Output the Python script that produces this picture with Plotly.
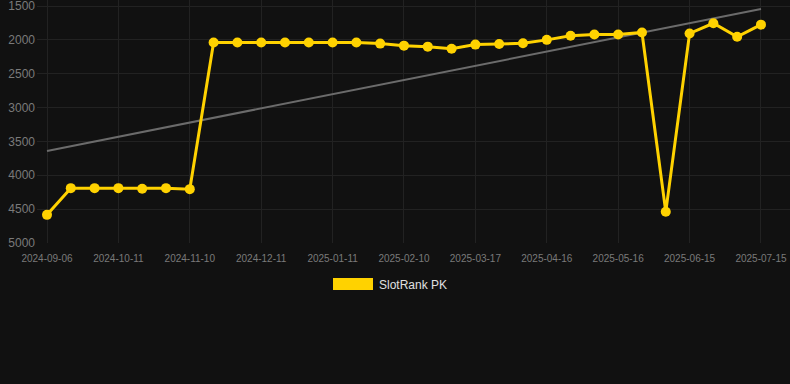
import plotly.graph_objects as go

dates = [
    "2024-09-06", "2024-09-18", "2024-09-30", "2024-10-11", "2024-10-21", "2024-10-31",
    "2024-11-10", "2024-11-20", "2024-12-01", "2024-12-11", "2024-12-21", "2025-01-01",
    "2025-01-11", "2025-01-21", "2025-01-31", "2025-02-10", "2025-02-22", "2025-03-06",
    "2025-03-17", "2025-03-27", "2025-04-06", "2025-04-16", "2025-04-26", "2025-05-06",
    "2025-05-16", "2025-05-26", "2025-06-05", "2025-06-15", "2025-06-25", "2025-07-05",
    "2025-07-15",
]
rank = [
    4585, 4190, 4190, 4190, 4200, 4190, 4205, 2040, 2040, 2040, 2040, 2040, 2040, 2040,
    2055, 2085, 2100, 2130, 2070, 2060, 2050, 2000, 1940, 1920, 1920, 1890, 4540, 1905,
    1755, 1955, 1775,
]
tick_labels = [
    "2024-09-06", "2024-10-11", "2024-11-10", "2024-12-11", "2025-01-11", "2025-02-10",
    "2025-03-17", "2025-04-16", "2025-05-16", "2025-06-15", "2025-07-15",
]
trend_x = ["2024-09-06", "2025-07-15"]
trend_y = [3640, 1545]
y_ticks = [1500, 2000, 2500, 3000, 3500, 4000, 4500, 5000]
series_name = "SlotRank PK"

GOLD = "#FFD200"
BG = "#111111"
GRID = "#222222"
TICK = "#808080"

fig = go.Figure()
fig.add_trace(go.Scatter(
    x=trend_x, y=trend_y, mode="lines",
    line=dict(color="#6b6b6b", width=2), hoverinfo="skip", showlegend=False,
))
fig.add_trace(go.Scatter(
    x=dates, y=rank, mode="lines+markers", name=series_name,
    line=dict(color=GOLD, width=3),
    marker=dict(color=GOLD, size=10),
    showlegend=False,
))

W, H = 790, 384
L, R, T, B = 37, 0, 0, 141
PH = H - T - B
PW = W - L - R
fig.update_layout(
    width=W, height=H,
    margin=dict(l=L, r=R, t=T, b=B),
    paper_bgcolor=BG, plot_bgcolor=BG,
    font=dict(family="Liberation Sans, Arial, sans-serif", color=TICK),
    xaxis=dict(
        type="category", categoryorder="array", categoryarray=dates,
        range=[-0.42, 31.22],
        tickmode="array", tickvals=tick_labels, ticktext=tick_labels,
        tickfont=dict(size=10, color="#7a7a7a"), tickangle=0,
        showgrid=True, gridcolor=GRID, gridwidth=1,
        zeroline=False, showline=False, ticks="", ticklabelstandoff=8,
        ticklabeloverflow="allow",
    ),
    yaxis=dict(
        range=[5000.5, 1411], tickmode="array", tickvals=y_ticks,
        tickfont=dict(size=12, color="#7a7a7a"),
        showgrid=True, gridcolor=GRID, gridwidth=1,
        zeroline=False, showline=False, ticks="", ticklabelstandoff=1,
        ticklabeloverflow="allow",
    ),
    showlegend=False,
)

def py(px):
    return 1 - (px - T) / PH

def pxx(px):
    return (px - L) / PW

# manual legend: wide swatch + label
fig.add_shape(type="rect", xref="paper", yref="paper",
              x0=pxx(333), x1=pxx(373), y0=py(278), y1=py(290),
              fillcolor=GOLD, line=dict(width=0))
fig.add_annotation(xref="paper", yref="paper",
                   x=pxx(377), y=py(284.5),
                   text=series_name, showarrow=False, xanchor="left", yanchor="middle",
                   font=dict(size=12, color="#e0e0e0"))

fig.write_html("out.html", config={"displayModeBar": False})
with open("out.html", "r", encoding="utf-8") as f:
    html = f.read()
html = html.replace("<head>", "<head><style>html,body{margin:0;padding:0;background:#111111;}</style>", 1)
with open("out.html", "w", encoding="utf-8") as f:
    f.write(html)
